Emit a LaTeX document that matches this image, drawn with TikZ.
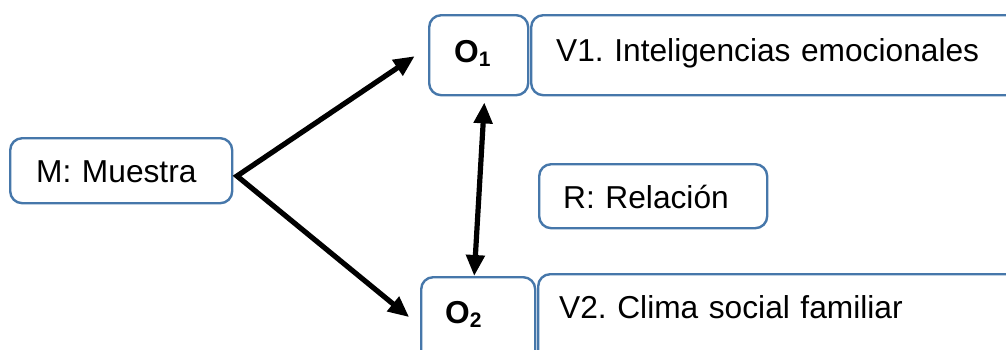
\documentclass[tikz,border=0pt]{standalone}
\usepackage{fontspec}
\setmainfont{Liberation Sans}
\usetikzlibrary{arrows.meta}
\definecolor{boxblue}{RGB}{70,119,170}

\tikzset{
  box/.style={draw=boxblue, line width=1.2pt, rounded corners=6pt, fill=white,
    anchor=north west, align=left, inner ysep=0pt,
    font=\fontsize{15.85}{19}\selectfont},
  darr/.style={line width=2.6pt, {Triangle[length=10.5pt,width=9pt]}-{Triangle[length=10.5pt,width=9pt]}, miter limit=20}
}
\newcommand{\obs}[1]{\textbf{O}\raisebox{-0.25ex}{\fontsize{10.5}{12}\selectfont\textbf{#1}}}

\begin{document}
\frenchspacing
\begin{tikzpicture}[x=0.5pt,y=-0.5pt]
    \useasboundingbox (0,0) rectangle (1006,349);
    \clip (0,0) rectangle (1006,349);

    \node[box, inner xsep=13pt, text width=85pt, text height=22pt, text depth=10.5pt] (m) at (9,137) {M: Muestra};
    \node[box, inner xsep=12.5pt, text width=24.5pt, text height=23.5pt, text depth=16.5pt] (o1) at (428,14) {\obs{1}};
    \node[box, inner xsep=12.5pt, text width=270pt, text height=23pt, text depth=17pt] (v1) at (530,14) {V1. Inteligencias emocionales};
    \node[box, inner xsep=12pt, text width=90pt, text height=22pt, text depth=10pt] (r) at (538,163) {R: Relación};
    \node[box, inner xsep=12pt, text width=33pt, text height=23pt, text depth=40pt] (o2) at (420,276) {\obs{2}};
    \node[box, inner xsep=10.5pt, text width=270pt, text height=22pt, text depth=40pt] (v2) at (537,273) {V2. Clima social familiar};

    \coordinate (fork) at (237,176);

    % muestra hacia las dos observaciones
    \draw[darr, shorten <=8pt, shorten >=7pt] ([yshift=4pt]o1.west) -- (fork) -- ([yshift=-25pt]o2.north west);
    % relacion entre O1 y O2
    \draw[darr, shorten <=3pt] ([xshift=3pt]o1.south) -- ([xshift=-2pt]o2.north);
\end{tikzpicture}
\end{document}
